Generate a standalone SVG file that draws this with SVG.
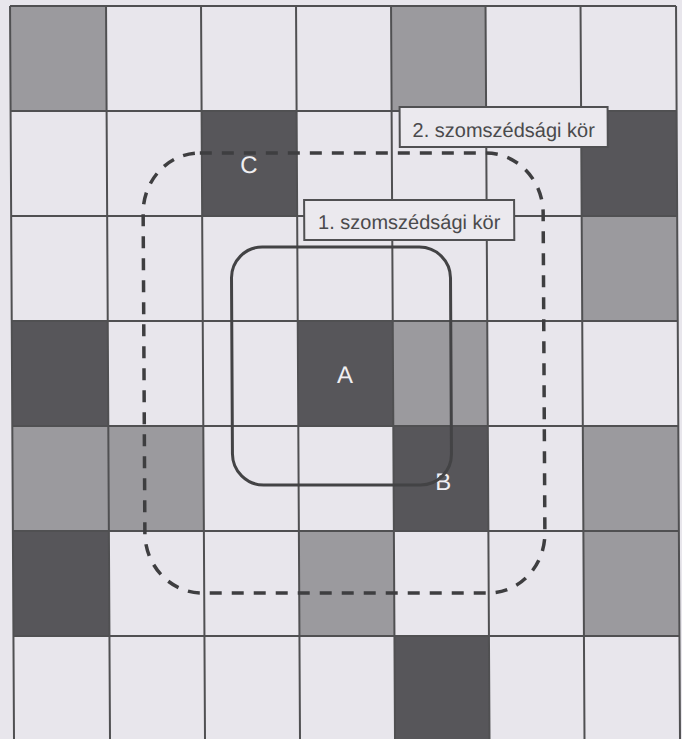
<svg xmlns="http://www.w3.org/2000/svg" width="682" height="739" viewBox="0 0 682 739">
<style>
.l{fill:#e8e6ec}
.m{fill:#9b9a9e}
.d{fill:#57565a}
.g{stroke:#505052;stroke-width:2;fill:none}
.lbl{fill:#ebe9ee;stroke:#505052;stroke-width:2}
.lt{font-family:"Liberation Sans",Arial,sans-serif;font-size:20px;fill:#4a4a4c;text-anchor:middle}
.let{font-family:"Liberation Sans",Arial,sans-serif;font-size:24px;fill:#f0eff2;text-anchor:middle}
</style>
<rect x="0" y="0" width="682" height="739" fill="#e8e6ec"/>
<g transform="skewX(0.31)">
<g id="cells">
<rect class="m" x="10" y="6" width="96" height="105"/>
<rect class="m" x="391" y="6" width="94.5" height="105"/>
<rect class="d" x="201" y="111" width="95" height="105"/>
<rect class="d" x="580.5" y="111" width="95.5" height="105"/>
<rect class="m" x="580.5" y="216" width="95.5" height="105"/>
<rect class="d" x="10" y="321" width="96" height="105"/>
<rect class="d" x="296" y="321" width="95" height="105"/>
<rect class="m" x="391" y="321" width="94.5" height="105"/>
<rect class="m" x="10" y="426" width="96" height="105"/>
<rect class="m" x="106" y="426" width="95" height="105"/>
<rect class="d" x="391" y="426" width="94.5" height="105"/>
<rect class="m" x="580.5" y="426" width="95.5" height="105"/>
<rect class="d" x="10" y="531" width="96" height="105"/>
<rect class="m" x="296" y="531" width="95" height="105"/>
<rect class="m" x="580.5" y="531" width="95.5" height="105"/>
<rect class="d" x="391" y="636" width="94.5" height="103"/>
</g>
<g id="grid" class="g">
<path d="M10 6V739M106 6V739M201 6V739M296 6V739M391 6V739M485.5 6V739M580.5 6V739M676 6V739"/>
<path d="M10 6H676M10 111H676M10 216H676M10 321H676M10 426H676M10 531H676M10 636H676"/>
</g>
<g id="letters">
<text class="let" x="248" y="173">C</text>
<text class="let" x="343" y="383">A</text>
<text class="let" x="440.5" y="490">B</text>
</g>
<g id="connectors">
<rect id="ring2" x="142" y="153" width="400" height="440" rx="57" ry="60" fill="none" stroke="#3e3e40" stroke-width="3.5" stroke-dasharray="12 10"/>
<rect id="ring1" x="230" y="247" width="219" height="238" rx="31" ry="31" fill="none" stroke="#434345" stroke-width="3"/>
</g>
<g id="label2">
<rect class="lbl" x="399" y="107" width="208" height="40"/>
<text class="lt" x="503" y="137">2. szomszédsági kör</text>
</g>
<g id="label1">
<rect class="lbl" x="303" y="200" width="210" height="40"/>
<text class="lt" x="408" y="229">1. szomszédsági kör</text>
</g>
</g>
</svg>
